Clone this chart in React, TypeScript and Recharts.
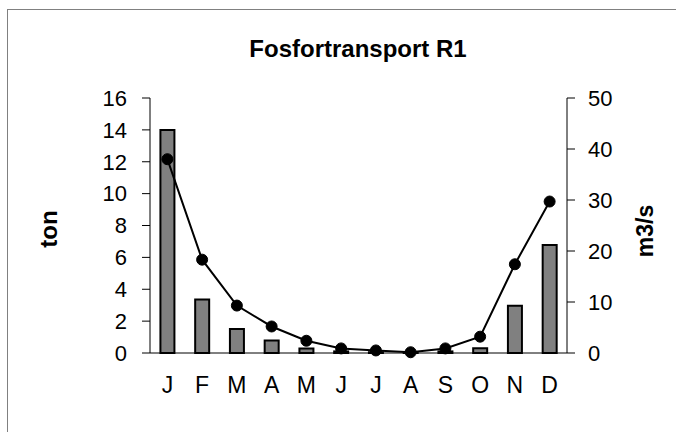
import { Bar, ComposedChart, Line, XAxis, YAxis } from 'recharts'

const MONTHS = ['J', 'F', 'M', 'A', 'M', 'J', 'J', 'A', 'S', 'O', 'N', 'D']
const TON = [14.0, 3.35, 1.5, 0.78, 0.28, 0.1, 0.05, 0.03, 0.1, 0.3, 2.97, 6.78]
const FLOW = [38.0, 18.3, 9.3, 5.2, 2.4, 0.9, 0.5, 0.15, 0.9, 3.2, 17.4, 29.7]
const TON_TICKS = [0, 2, 4, 6, 8, 10, 12, 14, 16]
const FLOW_TICKS = [0, 10, 20, 30, 40, 50]

const data = MONTHS.map((m, i) => ({ month: m, key: i, ton: TON[i], flow: FLOW[i] }))

const FONT = '"Liberation Sans", Arial, sans-serif'
const yTick = { fill: '#000', fontSize: 22, fontFamily: FONT }
const xTick = { fill: '#000', fontSize: 23, fontFamily: FONT }

export default function App() {
  return (
    <div
      style={{
        position: 'absolute',
        left: 0,
        top: 0,
        width: 676,
        height: 432,
        overflow: 'hidden',
        background: '#fff',
      }}
    >
      <div
        style={{
          position: 'absolute',
          left: 7,
          top: 9,
          width: 700,
          height: 460,
          border: '1px solid #808080',
        }}
      />
      <ComposedChart
        width={676}
        height={432}
        data={data}
        margin={{ top: 98, right: 0, bottom: 49, left: 0 }}
        barCategoryGap="30%"
        style={{ position: 'absolute', left: 0, top: 0 }}
      >
        <text
          x={358}
          y={57}
          textAnchor="middle"
          fontFamily={FONT}
          fontWeight="bold"
          fontSize={24}
          fill="#000"
        >
          Fosfortransport R1
        </text>
        <text
          transform="translate(57 229) rotate(-90)"
          textAnchor="middle"
          fontFamily={FONT}
          fontWeight="bold"
          fontSize={24}
          fill="#000"
        >
          ton
        </text>
        <text
          transform="translate(653 231) rotate(-90)"
          textAnchor="middle"
          fontFamily={FONT}
          fontWeight="bold"
          fontSize={23}
          fill="#000"
        >
          m3/s
        </text>
        <XAxis
          dataKey="key"
          tickFormatter={(i: number) => MONTHS[i]}
          height={30}
          axisLine={{ stroke: '#000', strokeWidth: 1 }}
          tickLine={false}
          tickSize={0}
          tickMargin={24}
          tick={xTick}
          interval={0}
        />
        <YAxis
          yAxisId="ton"
          orientation="left"
          width={150}
          domain={[0, 16]}
          ticks={TON_TICKS}
          interval={0}
          axisLine={{ stroke: '#000', strokeWidth: 1 }}
          tickLine={{ stroke: '#000', strokeWidth: 1 }}
          tickSize={8}
          tickMargin={15}
          tick={yTick}
        />
        <YAxis
          yAxisId="flow"
          orientation="right"
          width={109}
          domain={[0, 50]}
          ticks={FLOW_TICKS}
          interval={0}
          axisLine={{ stroke: '#000', strokeWidth: 1 }}
          tickLine={{ stroke: '#000', strokeWidth: 1 }}
          tickSize={8}
          tickMargin={13}
          tick={yTick}
        />
        <Bar
          yAxisId="ton"
          dataKey="ton"
          fill="#808080"
          stroke="#000"
          strokeWidth={2}
          isAnimationActive={false}
        />
        <Line
          yAxisId="flow"
          dataKey="flow"
          stroke="#000"
          strokeWidth={2}
          type="linear"
          dot={{ r: 5.5, fill: '#000', stroke: '#000', strokeWidth: 1 }}
          activeDot={false}
          isAnimationActive={false}
        />
      </ComposedChart>
    </div>
  )
}
